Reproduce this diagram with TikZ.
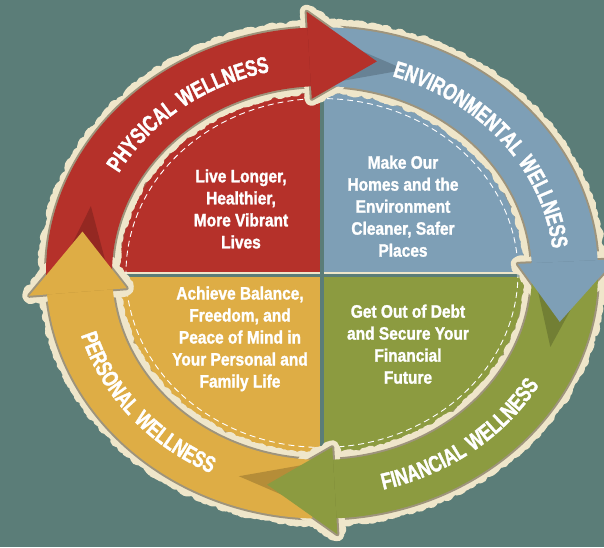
\documentclass[tikz,border=0pt]{standalone}
\usepackage{fontspec}
\newfontfamily\condfont{Liberation Sans}[FakeStretch=0.86,FakeBold=1.4]
\newfontfamily\bandfont{Liberation Sans}[FakeStretch=0.74,FakeBold=1.6,LetterSpace=7]
\usetikzlibrary{decorations.pathmorphing,decorations.text}
\definecolor{board}{HTML}{5B7D78}
\definecolor{paper}{HTML}{EFE6CA}
\definecolor{creasecol}{HTML}{9E947C}
\definecolor{phys}{HTML}{B5312A}
\definecolor{envi}{HTML}{7E9FB6}
\definecolor{fina}{HTML}{8C9B40}
\definecolor{pers}{HTML}{DEAD45}
\tikzset{
  torn/.style={draw=paper,line width=14pt,line join=round,decorate,
    decoration={random steps,segment length=2pt,amplitude=2.2pt}},
  rim/.style={draw=creasecol,line width=4pt,line join=round},
  blurb/.style={text=white,align=center,font=\condfont\bfseries\fontsize{18}{22}\selectfont},
  bandtext/.style={decorate,decoration={text along path,text align=center,text color=white,
    text={|\bandfont\bfseries\fontsize{23}{23}\selectfont|#1}}}
}
\pgfmathsetseed{5}
\begin{document}
\begin{tikzpicture}[x=1pt,y=0.89pt]
\useasboundingbox[fill=board] (-322pt,-274pt) rectangle (282pt,273pt);
% four quarters of the disc
\fill[phys] (0,0) -- (90:207) arc[start angle=90,end angle=180,radius=207] -- cycle;
\fill[envi] (0,0) -- (0:207) arc[start angle=0,end angle=90,radius=207] -- cycle;
\fill[pers] (0,0) -- (180:207) arc[start angle=180,end angle=270,radius=207] -- cycle;
\fill[fina] (0,0) -- (270:207) arc[start angle=270,end angle=360,radius=207] -- cycle;
\draw[paper,line width=1.2pt] (-207,0) -- (207,0);
\draw[board,line width=3.5pt] (-207,-2.6) -- (207,-2.6) (0,-207) -- (0,207);
\draw[white,line width=.9pt,dash pattern=on 6pt off 4pt] (0,0) circle[radius=196];
\draw[creasecol,line width=3pt,opacity=.7] (0,0) circle[radius=204];
% paper edge behind the bands and heads
\foreach \a/\b in {183/92,91/2,0/-88,-92/-176}{
  \path[torn] (\a:210) arc[start angle=\a,end angle=\b,radius=210] -- (\b:276) arc[start angle=\b,end angle=\a,radius=276] -- cycle;
  \path[rim] (\a:210) arc[start angle=\a,end angle=\b,radius=210] -- (\b:276) arc[start angle=\b,end angle=\a,radius=276] -- cycle;
}
\foreach \b in {93,3,-87,-175}{
  \path[torn] (\b:196) -- ({\b-16}:244) -- (\b:294) -- cycle;
  \path[rim] (\b:196) -- ({\b-16}:244) -- (\b:294) -- cycle;
}
% bands
\foreach \a/\b/\c in {183/92/phys,91/2/envi,0/-88/fina,-92/-176/pers}
  \fill[\c] (\a:210) arc[start angle=\a,end angle=\b,radius=210] -- (\b:276) arc[start angle=\b,end angle=\a,radius=276] -- cycle;
% heads with their shadow on the next band
\foreach \b/\c in {93/phys,3/envi,-87/fina,-175/pers}{
  \fill[black,opacity=.18] (\b:210) -- ({\b-23}:243) -- (\b:276) -- cycle;
  \fill[\c] (\b:196) -- ({\b-16}:244) -- (\b:294) -- cycle;
}
% band titles
\path[bandtext={PHYSICAL WELLNESS}] (190:232) arc[start angle=190,end angle=68,radius=232];
\path[bandtext={ENVIRONMENTAL WELLNESS}] (99:232) arc[start angle=99,end angle=-23,radius=232];
\path[bandtext={FINANCIAL WELLNESS}] (-112:251) arc[start angle=-112,end angle=10,radius=251];
\path[bandtext={PERSONAL WELLNESS}] (157:251) arc[start angle=157,end angle=279,radius=251];
% quarter texts
\node[blurb] (physnote) at (-81,72) {Live Longer,\\Healthier,\\More Vibrant\\Lives};
\node[blurb] (envinote) at (81,75) {Make Our\\Homes and the\\Environment\\Cleaner, Safer\\Places};
\node[blurb] (persnote) at (-82,-74) {Achieve Balance,\\Freedom, and\\Peace of Mind in\\Your Personal and\\Family Life};
\node[blurb] (finanote) at (86,-80) {Get Out of Debt\\and Secure Your\\Financial\\Future};
\end{tikzpicture}
\end{document}
